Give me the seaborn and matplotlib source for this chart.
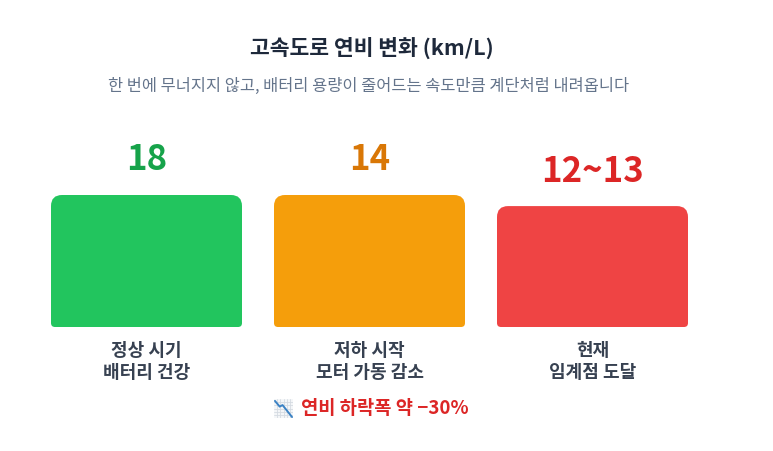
import numpy as np
import matplotlib
matplotlib.use("Agg")
from matplotlib import pyplot as plt
from matplotlib.patches import FancyBboxPatch
import seaborn as sns
import pandas as pd

# data
stages = ["정상 시기\n배터리 건강", "저하 시작\n모터 가동 감소", "현재\n임계점 도달"]
value_labels = ["18", "14", "12~13"]
bar_level = [100, 100, 91.6]   # relative bar height as drawn
bar_colors = ["#22c55e", "#f59e0b", "#ef4444"]
text_colors = ["#16a34a", "#d97706", "#dc2626"]

title = "고속도로 연비 변화 (km/L)"
subtitle = "한 번에 무너지지 않고, 배터리 용량이 줄어드는 속도만큼 계단처럼 내려옵니다"
note = "연비 하락폭 약 −30%"   # preceded by the 📉 sign, drawn as a shape (no font has it)

sns.set_theme(style="white")
plt.rcParams['font.family'] = ['Noto Sans CJK KR', 'DejaVu Sans']

W, H = 773, 452
fig = plt.figure(figsize=(W / 100, H / 100), dpi=100)
fig.patch.set_facecolor("white")

# axes placed in pixel terms: 3 slots of 223 px starting at x=35, baseline at y=328
ax = fig.add_axes([35 / W, 124 / H, 669 / W, 132 / H])
df = pd.DataFrame({"stage": stages, "level": bar_level})
sns.barplot(data=df, x="stage", y="level", hue="stage", palette=bar_colors,
            width=191 / 223, legend=False, ax=ax)
ax.set_xlim(-0.5, 2.5)
ax.set_ylim(0, 100)
ax.axis("off")

# swap plain bars for rounded ones (big top corners, small bottom corners)
px_x = 223.0          # pixels per x unit
px_y = 132.0 / 100    # pixels per y unit
r_top, r_bot = 11, 4
for p, c in zip(list(ax.patches), bar_colors):
    x0, w, h = p.get_x(), p.get_width(), p.get_height()
    p.remove()
    top = FancyBboxPatch((x0, h * 0.5), w, h * 0.5,
                         boxstyle=f"round,pad=0,rounding_size={r_top / px_x}",
                         mutation_aspect=px_x / px_y,
                         facecolor=c, edgecolor="none", clip_on=False)
    bot = FancyBboxPatch((x0, 0), w, h * 0.7,
                         boxstyle=f"round,pad=0,rounding_size={r_bot / px_x}",
                         mutation_aspect=px_x / px_y,
                         facecolor=c, edgecolor="none", clip_on=False)
    ax.add_patch(top)
    ax.add_patch(bot)

for i, (lab, val, lvl, tc) in enumerate(zip(stages, value_labels, bar_level, text_colors)):
    ax.text(i, lvl + 36 / px_y, val, ha="center", va="center", fontsize=25,
            fontweight="bold", color=tc, clip_on=False)
    l1, l2 = lab.split("\n")
    ax.text(i, -23 / px_y, l1, ha="center", va="center", fontsize=13,
            fontweight="bold", color="#374151", clip_on=False)
    ax.text(i, -45 / px_y, l2, ha="center", va="center", fontsize=13,
            fontweight="bold", color="#374151", clip_on=False)

fig.text(372 / W, 1 - 48 / H, title, ha="center", va="center", fontsize=15.5,
         fontweight="bold", color="#1e293b")
fig.text(369 / W, 1 - 86 / H, subtitle, ha="center", va="center", fontsize=11.8,
         color="#64748b")
fig.text(385 / W, 1 - 409 / H, note, ha="center", va="center", fontsize=13.5,
         fontweight="bold", color="#dc2626")

# 📉 icon: small grid card with a falling blue line
ic = fig.add_axes([274 / W, 1 - 419 / H, 19 / W, 19 / H])
ic.set_xlim(0, 1)
ic.set_ylim(0, 1)
ic.axis("off")
ic.add_patch(plt.Rectangle((0, 0), 1, 1, facecolor="#f4f6f8", edgecolor="none"))
for g in np.linspace(0.15, 0.85, 5):
    ic.plot([g, g], [0, 1], color="#d5dbe2", lw=0.6)
    ic.plot([0, 1], [g, g], color="#d5dbe2", lw=0.6)
ic.plot([0.05, 0.3, 0.45, 0.95], [0.9, 0.6, 0.68, 0.05], color="#3b82c4", lw=1.4,
        solid_capstyle="round")

plt.savefig("out.png", dpi=100)
